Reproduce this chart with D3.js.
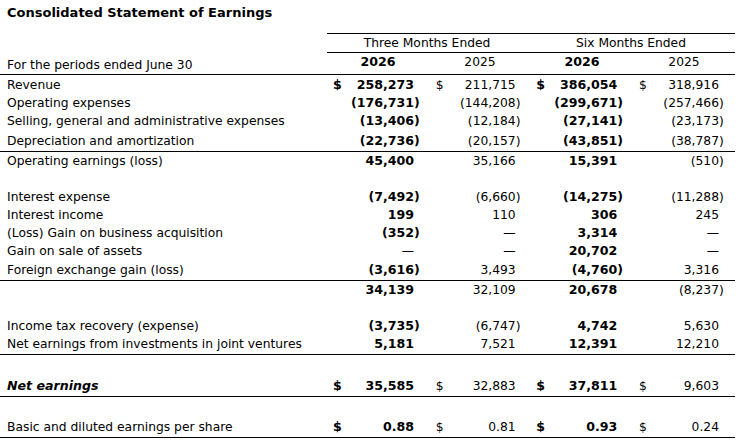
<!DOCTYPE html>
<html>
<head>
    <meta charset="utf-8">
    <title>Consolidated Statement of Earnings</title>
    <script src="https://d3js.org/d3.v7.min.js"></script>
    <style>
        body { margin: 0; padding: 0; background: #fff; }
        text { font-family: "DejaVu Sans", Verdana, sans-serif; font-size: 12.3px; fill: #000; }
        .b { font-weight: bold; font-size: 12.6px; }
        .title { font-weight: bold; font-size: 13px; }
        line { stroke: #000; stroke-width: 1; shape-rendering: crispEdges; }
    </style>
</head>
<body>
<svg id="svg" width="740" height="447"></svg>
<script>
// Row labels and row slot (vertical position in row units)
const labels = [
    "Revenue", "Operating expenses", "Selling, general and administrative expenses",
    "Depreciation and amortization", "Operating earnings (loss)",
    "Interest expense", "Interest income", "(Loss) Gain on business acquisition",
    "Gain on sale of assets", "Foreign exchange gain (loss)", "",
    "Income tax recovery (expense)", "Net earnings from investments in joint ventures",
    "Net earnings", "Basic and diluted earnings per share"
];
const slots = [0, 1, 2, 3.1, 4.2, 6.2, 7.2, 8.2, 9.2, 10.3, 11.4, 13.4, 14.4, 16.7, 19.0];
// null = dash
const q3_2026 = [258273, -176731, -13406, -22736, 45400, -7492, 199, -352, null, -3616, 34139, -3735, 5181, 35585, 0.88];
const q3_2025 = [211715, -144208, -12184, -20157, 35166, -6660, 110, null, null, 3493, 32109, -6747, 7521, 32883, 0.81];
const h1_2026 = [386054, -299671, -27141, -43851, 15391, -14275, 306, 3314, 20702, -4760, 20678, 4742, 12391, 37811, 0.93];
const h1_2025 = [318916, -257466, -23173, -38787, -510, -11288, 245, null, null, 3316, -8237, 5630, 12210, 9603, 0.24];
const dollarRows = [0, 13, 14];
const groupHeaders = ["Three Months Ended", "Six Months Ended"];
const years = ["2026", "2025", "2026", "2025"];
// rule lines drawn below these rows (slot units)
const fullRules = [3.1, 10.3, 14.4, 16.7, 19.0];

const svg = d3.select("#svg");
const y = d3.scaleLinear().domain([0, 1]).range([85, 103]);
const cols = d3.scalePoint().domain([0, 1, 2, 3]).range([414, 719]);
const colCenter = d3.scalePoint().domain([0, 1, 2, 3]).range([378, 684]);
const series = [q3_2026, q3_2025, h1_2026, h1_2025];

svg.append("text").attr("class", "title").attr("x", 7).attr("y", 17).text("Consolidated Statement of Earnings");

// header rules
[33, 52].forEach(v => svg.append("line").attr("x1", 327).attr("x2", 735).attr("y1", v + 0.5).attr("y2", v + 0.5));
svg.append("line").attr("x1", 0).attr("x2", 735).attr("y1", 74.5).attr("y2", 74.5);

groupHeaders.forEach((g, i) => {
    svg.append("text").attr("x", (colCenter(i * 2) + colCenter(i * 2 + 1)) / 2 - 2).attr("y", 47)
        .attr("text-anchor", "middle").text(g);
});
years.forEach((t, i) => {
    svg.append("text").attr("class", i % 2 === 0 ? "b" : null)
        .attr("x", colCenter(i)).attr("y", 66).attr("text-anchor", "middle").text(t);
});
svg.append("text").attr("x", 7).attr("y", 69).text("For the periods ended June 30");

const fmt = (v, i) => i === 14 ? d3.format(".2f")(Math.abs(v)) : d3.format(",")(Math.abs(v));

labels.forEach((lab, i) => {
    const yy = y(slots[i]) + 4;
    if (lab) {
        const t = svg.append("text").attr("x", 7).attr("y", yy).text(lab);
        if (i === 13) t.attr("class", "b").style("font-style", "italic");
    }
    series.forEach((s, c) => {
        const v = s[i];
        const bold = c % 2 === 0 ? "b" : null;
        const x = cols(c);
        if (v === null) {
            svg.append("text").attr("x", x).attr("y", yy).attr("text-anchor", "end").text("—");
        } else {
            svg.append("text").attr("class", bold).attr("x", x).attr("y", yy)
                .attr("text-anchor", "end").text((v < 0 ? "(" : "") + fmt(v, i));
            if (v < 0) svg.append("text").attr("class", bold).attr("x", x).attr("y", yy).text(")");
        }
        if (dollarRows.includes(i)) {
            svg.append("text").attr("class", bold).attr("x", x - (c % 2 === 0 ? 81 : 80)).attr("y", yy).text("$");
        }
    });
});

fullRules.forEach(s => {
    const yy = Math.round(y(s) + 10) + 0.5;
    svg.append("line").attr("x1", 0).attr("x2", 735).attr("y1", yy).attr("y2", yy);
});
</script>
</body>
</html>
